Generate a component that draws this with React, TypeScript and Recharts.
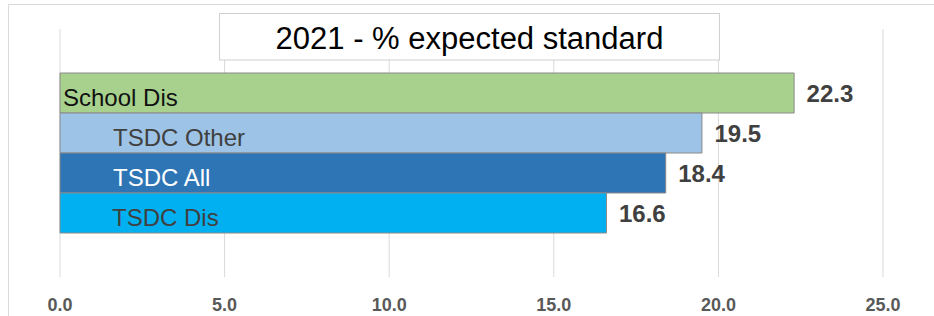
import React from "react";
import {
  Bar,
  BarChart,
  CartesianGrid,
  Customized,
  LabelList,
  XAxis,
  YAxis,
} from "recharts";

const categories = ["2021"];
const seriesNames = ["School Dis", "TSDC Other", "TSDC All", "TSDC Dis"];
const seriesValues = [22.3, 19.5, 18.4, 16.6];
const xTicks = [0, 5, 10, 15, 20, 25];
const chartTitle = "2021 - % expected standard";

const seriesKeys = ["schoolDis", "tsdcOther", "tsdcAll", "tsdcDis"];

// one row, one column per series
const data = categories.map((name) => {
  const row: Record<string, string | number> = { name };
  seriesKeys.forEach((k, i) => {
    row[k] = seriesValues[i];
  });
  return row;
});

const fills = ["#a9d18e", "#9dc3e6", "#2e75b6", "#00b0f0"];
const nameColors = ["#111111", "#404040", "#ffffff", "#404040"];
const nameIndent = [3, 53, 53, 52];

const FONT = "'Liberation Sans', Arial, sans-serif";
const GRID = "#d9d9d9";

const nameLabel = (i: number) => (props: any) => {
  const { x, y, height } = props;
  return (
    <text
      x={Number(x) + nameIndent[i]}
      y={Number(y) + Number(height) / 2 + 12.5}
      fill={nameColors[i]}
      fontSize={24}
      fontFamily={FONT}
    >
      {seriesNames[i]}
    </text>
  );
};

const valueLabel = (props: any) => {
  const { x, y, width, height, value } = props;
  return (
    <text
      x={Number(x) + Number(width) + 12.5}
      y={Number(y) + Number(height) / 2 + 9.2}
      fill="#404040"
      fontSize={24}
      fontWeight="bold"
      fontFamily={FONT}
    >
      {Number(value).toFixed(1)}
    </text>
  );
};

const Frame = () => (
  <g>
    <line x1={8.5} y1={4.5} x2={934} y2={4.5} stroke={GRID} />
    <line x1={8.5} y1={4.5} x2={8.5} y2={316} stroke={GRID} />
    <rect x={219.5} y={13.5} width={500} height={46.5} fill="#fff" stroke="#d0d0d0" />
    <text
      x={469.5}
      y={49.3}
      textAnchor="middle"
      fontSize={31}
      fontFamily={FONT}
      fill="#000"
    >
      {chartTitle}
    </text>
  </g>
);

const Tick = (props: any) => {
  const { x, payload } = props;
  return (
    <text
      x={x}
      y={310.7}
      textAnchor="middle"
      fill="#595959"
      fontSize={18}
      fontWeight="bold"
      fontFamily={FONT}
    >
      {Number(payload.value).toFixed(1)}
    </text>
  );
};

export default function App() {
  return (
    <div style={{ position: "absolute", left: 0, top: 0, background: "#fff" }}>
      <BarChart
        width={934}
        height={316}
        data={data}
        layout="vertical"
        margin={{ top: 29, right: 51, left: 60, bottom: 0 }}
        barCategoryGap={44}
        barGap={0}
      >
        <CartesianGrid horizontal={false} stroke={GRID} />
        <XAxis
          type="number"
          domain={[0, 25]}
          ticks={xTicks}
          axisLine={false}
          tickLine={false}
          height={39}
          tick={<Tick />}
        />
        <YAxis type="category" dataKey="name" hide width={0} />
        {seriesKeys.map((k, i) => (
          <Bar
            key={k}
            dataKey={k}
            name={seriesNames[i]}
            fill={fills[i]}
            stroke="#8a8a8a"
            strokeWidth={1}
            isAnimationActive={false}
          >
            <LabelList dataKey={k} content={nameLabel(i)} />
            <LabelList dataKey={k} content={valueLabel} />
          </Bar>
        ))}
        <Customized component={Frame} />
      </BarChart>
    </div>
  );
}
